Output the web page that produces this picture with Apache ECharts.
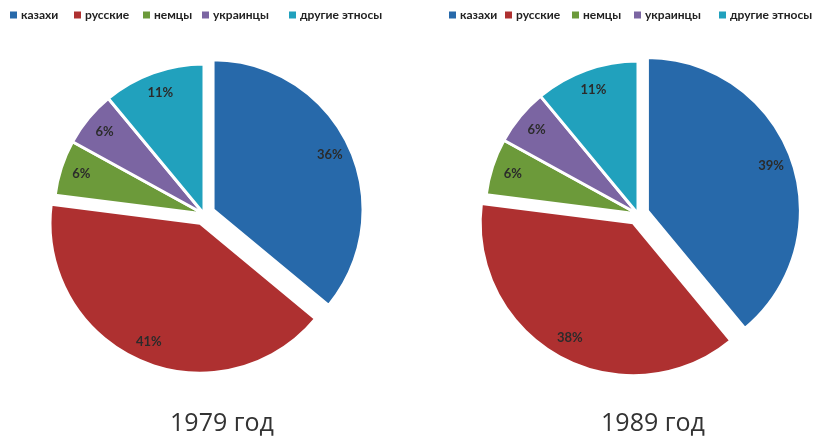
<!DOCTYPE html>
<html>
<head>
<meta charset="utf-8">
<script src="https://cdn.jsdelivr.net/npm/echarts@6/dist/echarts.min.js"></script>
<style>
  html, body { margin: 0; padding: 0; background: #fff; }
  #chart { width: 822px; height: 438px; }
</style>
</head>
<body>
<div id="chart"></div>
<script>
// Ethnic composition of the population, percent
const groups = ['казахи', 'русские', 'немцы', 'украинцы', 'другие этносы'];
const share1979 = [36, 41, 6, 6, 11];
const share1989 = [39, 38, 6, 6, 11];
const yearLabels = ['1979 год', '1989 год'];
const explodedGroups = ['казахи', 'русские'];

const palette = ['#2769AA', '#AE3030', '#6C9A3A', '#7B65A2', '#21A1BD'];
const FONT = 'Lato, "Noto Sans", sans-serif';

// horizontal start of each legend entry above the two pies
const legendLeft1979 = [8, 72, 141, 200, 287];
const legendLeft1989 = [447, 503, 570, 632, 717];

function toItems(values) {
  return groups.map((name, i) => ({
    name: name,
    value: values[i],
    selected: explodedGroups.indexOf(name) >= 0
  }));
}

// slice layer: the coloured wedges with white separators
function sliceSeries(values, center, radius) {
  return {
    type: 'pie',
    center: center,
    radius: radius,
    startAngle: 90,
    clockwise: true,
    selectedMode: 'multiple',
    selectedOffset: 10,
    silent: true,
    itemStyle: { borderColor: '#ffffff', borderWidth: 3 },
    label: { show: false },
    labelLine: { show: false },
    emphasis: { disabled: true },
    data: toItems(values)
  };
}

// label layer: transparent ring so the percentages sit near the rim
function labelSeries(values, center, radius) {
  return {
    type: 'pie',
    center: center,
    radius: [radius * 0.68, radius],
    startAngle: 90,
    clockwise: true,
    selectedMode: 'multiple',
    selectedOffset: 10,
    silent: true,
    z: 5,
    itemStyle: { color: 'transparent', borderWidth: 0 },
    label: {
      show: true,
      position: 'inside',
      formatter: '{c}%',
      color: '#2b2b2b',
      fontFamily: FONT,
      fontWeight: 'bold',
      fontSize: 13
    },
    labelLine: { show: false },
    emphasis: { disabled: true },
    data: toItems(values)
  };
}

function legendEntry(name, left) {
  return {
    top: 9,
    left: left,
    orient: 'horizontal',
    padding: 0,
    icon: 'rect',
    itemWidth: 9,
    itemHeight: 9,
    selectedMode: false,
    data: [name],
    textStyle: { color: '#222', fontFamily: FONT, fontWeight: 'bold', fontSize: 12, padding: [0, 0, 0, -2] }
  };
}

const legends = [];
groups.forEach((g, i) => {
  legends.push(legendEntry(g, legendLeft1979[i]));
  legends.push(legendEntry(g, legendLeft1989[i]));
});

const chart = echarts.init(document.getElementById('chart'), null, { renderer: 'canvas' });
chart.setOption({
  animation: false,
  backgroundColor: '#ffffff',
  color: palette,
  legend: legends,
  graphic: [
    { type: 'text', x: 222, y: 424, style: { text: yearLabels[0], fill: '#333', font: '25px "Open Sans", sans-serif', textAlign: 'center', textVerticalAlign: 'middle' } },
    { type: 'text', x: 653, y: 424, style: { text: yearLabels[1], fill: '#333', font: '25px "Open Sans", sans-serif', textAlign: 'center', textVerticalAlign: 'middle' } }
  ],
  series: [
    sliceSeries(share1979, [204, 214], 150),
    labelSeries(share1979, [204, 214], 150),
    sliceSeries(share1989, [638, 214], 153),
    labelSeries(share1989, [638, 214], 153)
  ]
});
</script>
</body>
</html>
